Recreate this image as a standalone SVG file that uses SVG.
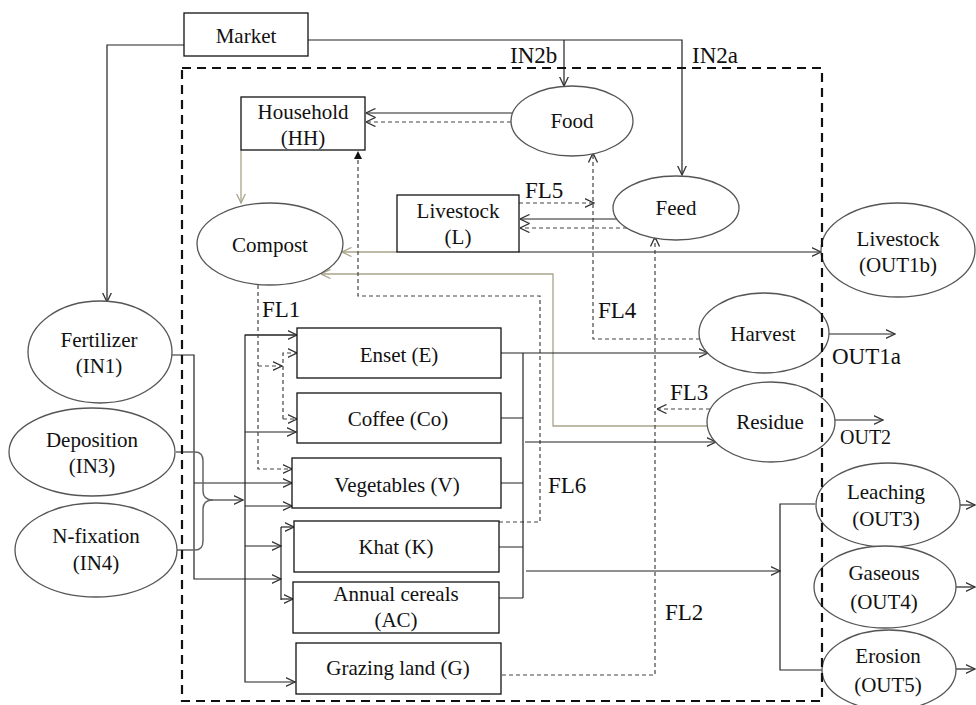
<svg xmlns="http://www.w3.org/2000/svg" width="976" height="705" viewBox="0 0 976 705">
<style>
.box{fill:#fff;stroke:#111;stroke-width:1.3}
.ell{fill:#fff;stroke:#555;stroke-width:1.3}
.t{font-family:"Liberation Serif","Times New Roman",serif;font-size:21px;fill:#111;text-anchor:middle}
.lbl{font-family:"Liberation Serif","Times New Roman",serif;font-size:23px;fill:#111}
.ln{fill:none;stroke:#222;stroke-width:1.2}
.gr{fill:none;stroke:#666;stroke-width:1.5}
.ds{fill:none;stroke:#444;stroke-width:1.2;stroke-dasharray:4,3}
.tan{fill:none;stroke:#aaa38b;stroke-width:1.3}
.bd{fill:none;stroke:#111;stroke-width:2.2;stroke-dasharray:9,6}
</style>
<defs>
<marker id="a" viewBox="0 0 10 10" refX="9.5" refY="5" markerWidth="10" markerHeight="10" markerUnits="userSpaceOnUse" orient="auto"><path d="M0,0.5 L9.5,5 L0,9.5" fill="none" stroke="#333" stroke-width="1.3"/></marker>
<marker id="at" viewBox="0 0 10 10" refX="9.5" refY="5" markerWidth="10" markerHeight="10" markerUnits="userSpaceOnUse" orient="auto"><path d="M0,0.5 L9.5,5 L0,9.5" fill="none" stroke="#aaa38b" stroke-width="1.3"/></marker>
<marker id="f" viewBox="0 0 10 10" refX="10" refY="5" markerWidth="8" markerHeight="8" markerUnits="userSpaceOnUse" orient="auto"><path d="M0,0 L10,5 L0,10 Z" fill="#111"/></marker>
</defs>
<rect width="976" height="705" fill="#fff"/>

<g id="connectors">
<path class="ln" d="M184,45 H107 V302" marker-end="url(#a)"/>
<path class="ln" d="M308,40 H682 V175" marker-end="url(#a)"/>
<path class="ln" d="M564,40 V86" marker-end="url(#a)"/>
<path class="ln" d="M512,113 H366" marker-end="url(#a)"/>
<path class="ds" d="M511,122 H366" marker-end="url(#a)"/>
<path class="tan" d="M241,150 V203" marker-end="url(#at)"/>
<path class="ds" d="M519,203 H594" marker-end="url(#a)"/>
<path class="ln" d="M617,219 H520" marker-end="url(#a)"/>
<path class="ds" d="M627,228 H520" marker-end="url(#a)"/>
<path class="ln" d="M519,252 H821" marker-end="url(#a)"/>
<path class="tan" d="M397,252 H342" marker-end="url(#at)"/>
<path class="tan" d="M708,426 H553 V274 H321" marker-end="url(#at)"/>
<path class="ds" d="M492,522 H540 V296 H358 V151" marker-end="url(#f)"/>
<path class="ds" d="M700,339 H593 V153" marker-end="url(#a)"/>
<path class="ds" d="M502,675 H655 V237" marker-end="url(#a)"/>
<path class="ds" d="M710,409 H657" marker-end="url(#a)"/>
<path class="ln" d="M501,353 H708" marker-end="url(#a)"/>
<path class="ln" d="M523,353 V598"/>
<path class="ln" d="M501,418 H523 M501,483 H523 M499,547 H523 M499,598 H523"/>
<path class="ln" d="M525,442 H716" marker-end="url(#a)"/>
<path class="ln" d="M526,571 H780" marker-end="url(#a)"/>
<path class="ln" d="M815,504 H780 V670 H822"/>
<path class="ln" d="M829,334 H895" marker-end="url(#a)"/>
<path class="ln" d="M835,420 H883" marker-end="url(#a)"/>
<path class="ln" d="M960,505 H975" marker-end="url(#a)"/>
<path class="ln" d="M955,587 H975" marker-end="url(#a)"/>
<path class="ln" d="M956,669 H975" marker-end="url(#a)"/>
<path class="ln" d="M172,355 H194 V579 H281" marker-end="url(#a)"/>
<path class="ln" d="M194,483 H292" marker-end="url(#a)"/>
<path class="gr" d="M176,452 H195 Q203,452 203,461 V491 Q203,500 213,500 H243" marker-end="url(#a)"/>
<path class="gr" d="M177,550 H195 Q203,550 203,541 V509 Q203,500 213,500"/>
<path class="ln" d="M297,335 H245 V682 H295" marker-end="url(#a)"/>
<path class="ln" d="M245,335 H297" marker-end="url(#a)"/>
<path class="ln" d="M245,432 H296" marker-end="url(#a)"/>
<path class="ln" d="M245,506 H292" marker-end="url(#a)"/>
<path class="ln" d="M245,546 H281" marker-end="url(#a)"/>
<path class="ln" d="M281,527 V600"/>
<path class="ln" d="M281,527 H294" marker-end="url(#a)"/>
<path class="ln" d="M281,599 H293" marker-end="url(#a)"/>
<path class="ds" d="M258,285 V469 H292" marker-end="url(#a)"/>
<path class="ds" d="M258,366 H282" marker-end="url(#a)"/>
<path class="ds" d="M283,419 V353 H297" marker-end="url(#a)"/>
<path class="ds" d="M283,419 H297" marker-end="url(#a)"/>
</g>

<g id="market"><rect class="box" x="184" y="13" width="124" height="43"/><text class="t" x="246" y="43">Market</text></g>
<g id="household"><rect class="box" x="241" y="97" width="124" height="53"/><text class="t" x="303" y="119">Household</text><text class="t" x="303" y="145">(HH)</text></g>
<g id="food"><ellipse class="ell" cx="572" cy="121" rx="61" ry="35"/><text class="t" x="572" y="128">Food</text></g>
<g id="feed"><ellipse class="ell" cx="676" cy="208" rx="63" ry="32"/><text class="t" x="676" y="215">Feed</text></g>
<g id="livestock"><rect class="box" x="397" y="195" width="122" height="57"/><text class="t" x="458" y="218">Livestock</text><text class="t" x="458" y="244">(L)</text></g>
<g id="compost"><ellipse class="ell" cx="270" cy="244" rx="73" ry="41"/><text class="t" x="270" y="252">Compost</text></g>
<g id="out1b"><ellipse class="ell" cx="898" cy="250" rx="77" ry="47"/><text class="t" x="898" y="246">Livestock</text><text class="t" x="898" y="272">(OUT1b)</text></g>
<g id="harvest"><ellipse class="ell" cx="764" cy="333" rx="65" ry="40"/><text class="t" x="763" y="341">Harvest</text></g>
<g id="residue"><ellipse class="ell" cx="771" cy="422" rx="64" ry="40"/><text class="t" x="770" y="429">Residue</text></g>
<g id="fertilizer"><ellipse class="ell" cx="100" cy="352" rx="72" ry="51"/><text class="t" x="99" y="347">Fertilizer</text><text class="t" x="99" y="373">(IN1)</text></g>
<g id="deposition"><ellipse class="ell" cx="92" cy="452" rx="83" ry="44"/><text class="t" x="92" y="447">Deposition</text><text class="t" x="92" y="473">(IN3)</text></g>
<g id="nfixation"><ellipse class="ell" cx="96" cy="550" rx="81" ry="47"/><text class="t" x="96" y="543">N-fixation</text><text class="t" x="96" y="570">(IN4)</text></g>
<g id="leaching"><ellipse class="ell" cx="888" cy="505" rx="72" ry="42"/><text class="t" x="886" y="499">Leaching</text><text class="t" x="886" y="526">(OUT3)</text></g>
<g id="gaseous"><ellipse class="ell" cx="885" cy="587" rx="71" ry="41"/><text class="t" x="884" y="580">Gaseous</text><text class="t" x="884" y="609">(OUT4)</text></g>
<g id="erosion"><ellipse class="ell" cx="889" cy="670" rx="67" ry="40"/><text class="t" x="888" y="663">Erosion</text><text class="t" x="888" y="692">(OUT5)</text></g>
<g id="enset"><rect class="box" x="297" y="328" width="204" height="50"/><text class="t" x="399" y="362">Enset (E)</text></g>
<g id="coffee"><rect class="box" x="297" y="393" width="204" height="50"/><text class="t" x="398" y="426">Coffee (Co)</text></g>
<g id="vegetables"><rect class="box" x="292" y="458" width="209" height="50"/><text class="t" x="397" y="492">Vegetables (V)</text></g>
<g id="khat"><rect class="box" x="294" y="521" width="205" height="51"/><text class="t" x="396" y="554">Khat (K)</text></g>
<g id="cereals"><rect class="box" x="293" y="582" width="206" height="51"/><text class="t" x="396" y="601">Annual cereals</text><text class="t" x="396" y="627">(AC)</text></g>
<g id="grazing"><rect class="box" x="296" y="643" width="205" height="51"/><text class="t" x="398" y="675">Grazing land (G)</text></g>

<g id="labels">
<text class="lbl" x="510" y="63">IN2b</text>
<text class="lbl" x="692" y="63">IN2a</text>
<text class="lbl" x="525" y="198">FL5</text>
<text class="lbl" x="262" y="317">FL1</text>
<text class="lbl" x="598" y="318">FL4</text>
<text class="lbl" x="670" y="400">FL3</text>
<text class="lbl" x="832" y="364">OUT1a</text>
<text class="lbl" x="840" y="444" style="font-size:20px">OUT2</text>
<text class="lbl" x="548" y="493">FL6</text>
<text class="lbl" x="665" y="620">FL2</text>
</g>

<g id="boundary"><rect class="bd" x="182" y="68" width="640" height="633"/></g>
</svg>
